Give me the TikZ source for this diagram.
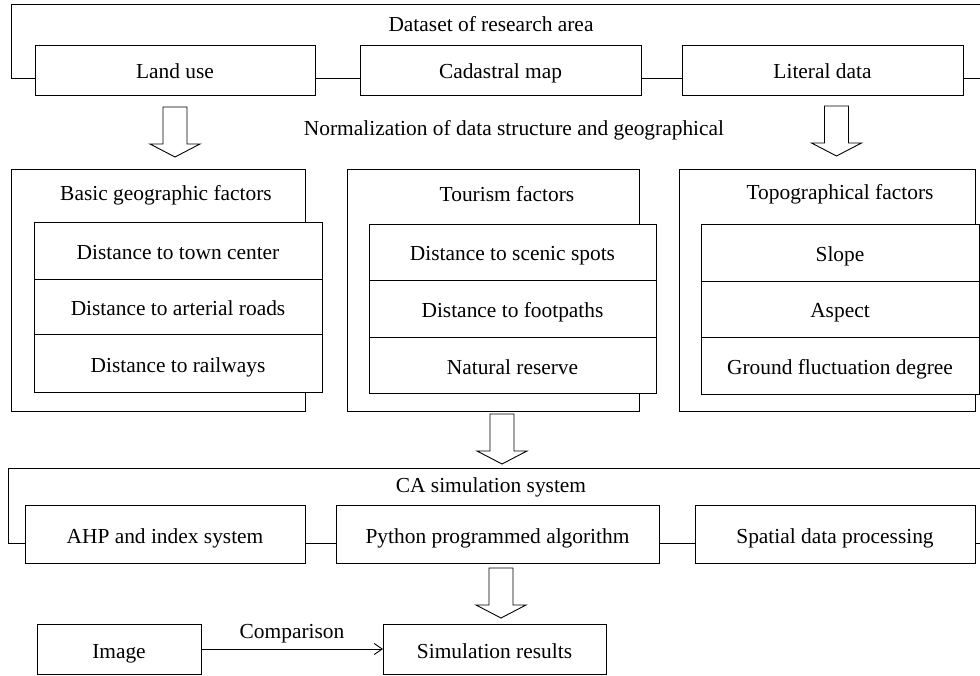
\documentclass[tikz,border=0pt]{standalone}
\usepackage{fontspec}
\setmainfont{Liberation Serif}
\usetikzlibrary{arrows.meta,calc}
\begin{document}
\begin{tikzpicture}[x=1pt,y=-1pt,
  ln/.style={line width=0.9pt},
  bx/.style={draw, fill=white, line width=0.9pt, inner sep=0pt, outer sep=0pt, text height=21pt, text depth=3pt, font=\fontsize{21.4}{24}\selectfont},
  lbl/.style={font=\fontsize{21.4}{24}\selectfont, inner sep=0pt},
  hollow/.pic={\draw[line width=0.9pt, line join=miter] (-12,0) -- (-12,37) -- (-25,37) -- (0,50) -- (25,37) -- (12,37) -- (12,0) -- cycle;}
]
\useasboundingbox[fill=white] (0,0) rectangle (980,676);

% ---- dataset group
\node[lbl] (dstitle) at (491,24) {Dataset of research area};
\node[bx, minimum width=280pt, minimum height=50pt] (land) at (175,70) {Land use};
\node[bx, minimum width=281pt, minimum height=50pt] (cad) at (500.5,70) {Cadastral map};
\node[bx, minimum width=281pt, minimum height=50pt] (lit) at (822.5,70) {Literal data};
\coordinate (ytop) at (0,78);
\coordinate (tl) at (11,4);
\coordinate (tr) at (980,4);
\coordinate (tre) at (980,78);
\draw[ln] (land.west |- ytop) -| (tl) -- (tr);
\draw[ln] (land.east |- ytop) -- (cad.west |- ytop);
\draw[ln] (cad.east |- ytop) -- (lit.west |- ytop);
\draw[ln] (lit.east |- ytop) -- (tre);

\pic at (175,107) {hollow};
\pic at (836.5,106) {hollow};
\node[lbl] (norm) at (514,130) {Normalization of data structure and geographical};

% ---- factor groups
\node[bx, minimum width=294pt, minimum height=242pt] (basic) at (158,290) {};
\node[lbl] (basict) at (166,195) {Basic geographic factors};
\node[bx, minimum width=288pt, minimum height=57pt] (b1) at (178,250.5) {Distance to town center};
\node[bx, minimum width=288pt, minimum height=55pt] (b2) at (178,306.5) {Distance to arterial roads};
\node[bx, minimum width=288pt, minimum height=58pt] (b3) at (178,363) {Distance to railways};

\node[bx, minimum width=292pt, minimum height=242pt] (tour) at (493,290) {};
\node[lbl] (tourt) at (507,194) {Tourism factors};
\node[bx, minimum width=287pt, minimum height=56pt] (t1) at (512.5,252) {Distance to scenic spots};
\node[bx, minimum width=287pt, minimum height=57pt] (t2) at (512.5,308.5) {Distance to footpaths};
\node[bx, minimum width=287pt, minimum height=56pt] (t3) at (512.5,365) {Natural reserve};

\node[bx, minimum width=296pt, minimum height=242pt] (topo) at (827,290) {};
\node[lbl] (topot) at (840,194) {Topographical factors};
\node[bx, minimum width=278pt, minimum height=57pt] (p1) at (840,252.5) {Slope};
\node[bx, minimum width=278pt, minimum height=56pt] (p2) at (840,309) {Aspect};
\node[bx, minimum width=278pt, minimum height=57pt] (p3) at (840,365.5) {Ground fluctuation degree};

\pic at (502,414) {hollow};

% ---- CA simulation group
\node[lbl] (catitle) at (491,487) {CA simulation system};
\node[bx, minimum width=280pt, minimum height=58pt] (ahp) at (165,534) {AHP and index system};
\node[bx, minimum width=323pt, minimum height=58pt] (py) at (497.5,534) {Python programmed algorithm};
\node[bx, minimum width=280pt, minimum height=58pt] (sp) at (835,534) {Spatial data processing};
\coordinate (ybot) at (0,543);
\coordinate (bl) at (8,468);
\coordinate (br) at (980,468);
\coordinate (bre) at (980,543);
\draw[ln] (ahp.west |- ybot) -| (bl) -- (br);
\draw[ln] (ahp.east |- ybot) -- (py.west |- ybot);
\draw[ln] (py.east |- ybot) -- (sp.west |- ybot);
\draw[ln] (sp.east |- ybot) -- (bre);

\pic at (501,568) {hollow};

% ---- results
\node[bx, minimum width=164pt, minimum height=50pt] (img) at (119,649) {Image};
\node[bx, minimum width=223pt, minimum height=50pt] (sim) at (494.5,649) {Simulation results};
\draw[ln, -{Straight Barb[length=8pt,width=11pt]}] (img.east) -- node[lbl, above=5pt] (cmp) {Comparison} (sim.west);
\end{tikzpicture}
\end{document}
